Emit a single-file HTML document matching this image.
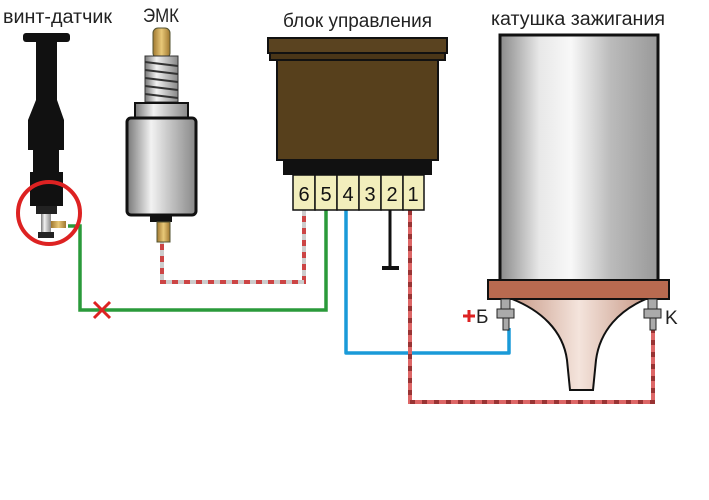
<!DOCTYPE html>
<html><head><meta charset="utf-8"><style>
body{margin:0;background:#fff;width:709px;height:500px;overflow:hidden}
svg{display:block}
text{font-family:"Liberation Sans","DejaVu Sans",sans-serif}
</style></head><body>
<svg width="709" height="500" viewBox="0 0 709 500">
<defs>
<linearGradient id="met" x1="0" x2="1"><stop offset="0" stop-color="#777"/><stop offset="0.35" stop-color="#f2f2f2"/><stop offset="0.6" stop-color="#c8c8c8"/><stop offset="1" stop-color="#888"/></linearGradient>
<linearGradient id="coil" x1="0" x2="1"><stop offset="0" stop-color="#8a8a8a"/><stop offset="0.25" stop-color="#e8e8e8"/><stop offset="0.45" stop-color="#f8f8f8"/><stop offset="0.7" stop-color="#bbb"/><stop offset="1" stop-color="#999"/></linearGradient>
<linearGradient id="fun" x1="0" x2="1"><stop offset="0" stop-color="#c89a88"/><stop offset="0.5" stop-color="#f4e4dc"/><stop offset="1" stop-color="#c89a88"/></linearGradient>
<linearGradient id="brass" x1="0" x2="1"><stop offset="0" stop-color="#a07830"/><stop offset="0.5" stop-color="#e8c878"/><stop offset="1" stop-color="#a07830"/></linearGradient>
</defs>
<g font-size="19" fill="#222">
<text x="3" y="23" textLength="109" lengthAdjust="spacingAndGlyphs">винт-датчик</text>
<text x="143" y="22" textLength="36" lengthAdjust="spacingAndGlyphs">ЭМК</text>
<text x="283" y="27" textLength="149" lengthAdjust="spacingAndGlyphs">блок управления</text>
<text x="491" y="25" textLength="174" lengthAdjust="spacingAndGlyphs">катушка зажигания</text>
</g>
<!-- wires -->
<polyline points="304,210 304,282 162,282 162,240" fill="none" stroke="#c44" stroke-width="4"/>
<polyline points="304,210 304,282 162,282 162,240" fill="none" stroke="#ccc" stroke-width="4" stroke-dasharray="6,6"/>
<polyline points="326,210 326,310 80,310 80,226 68,226" fill="none" stroke="#2a9a3a" stroke-width="3.5"/>
<polyline points="346,208 346,353 509,353 509,328" fill="none" stroke="#1a9ad8" stroke-width="3.5" stroke-linejoin="round"/>
<line x1="390" y1="210" x2="390" y2="268" stroke="#111" stroke-width="3"/>
<line x1="382" y1="268" x2="399" y2="268" stroke="#111" stroke-width="4"/>
<polyline points="410,210 410,402 653,402 653,328" fill="none" stroke="#d66" stroke-width="4"/>
<polyline points="410,210 410,402 653,402 653,328" fill="none" stroke="#933" stroke-width="4" stroke-dasharray="5,7"/>
<path d="M94,302 L110,318 M110,302 L94,318" stroke="#d22" stroke-width="3"/>
<!-- sensor -->
<rect x="23" y="33" width="47" height="9" rx="3" fill="#111"/>
<path d="M36,42 H57 V100 L64,120 V150 H28 V120 L36,100Z" fill="#111"/>
<rect x="33" y="150" width="26" height="22" fill="#111"/>
<rect x="30" y="172" width="33" height="34" fill="#111"/>
<rect x="36" y="206" width="21" height="8" fill="#222"/>
<rect x="41" y="214" width="10" height="18" fill="url(#met)"/>
<rect x="38" y="232" width="16" height="6" fill="#222"/>
<rect x="51" y="221" width="15" height="7" fill="url(#brass)"/>
<circle cx="49" cy="213" r="31" fill="none" stroke="#d22" stroke-width="4"/>
<!-- EMK -->
<rect x="153" y="28" width="17" height="30" rx="5" fill="url(#brass)" stroke="#553" stroke-width="1"/>
<rect x="145" y="56" width="33" height="46" fill="url(#met)" stroke="#333"/>
<path d="M145,62 L178,66 M145,70 L178,74 M145,78 L178,82 M145,86 L178,90 M145,94 L178,98" stroke="#333" stroke-width="2"/>
<rect x="135" y="103" width="53" height="15" fill="url(#met)" stroke="#111" stroke-width="2"/>
<rect x="127" y="118" width="69" height="97" rx="4" fill="url(#met)" stroke="#111" stroke-width="3"/>
<rect x="150" y="215" width="22" height="7" fill="#111"/>
<rect x="157" y="222" width="13" height="20" fill="url(#brass)" stroke="#553" stroke-width="1"/>
<!-- block -->
<rect x="268" y="38" width="179" height="15" fill="#5a4320" stroke="#111" stroke-width="2"/>
<rect x="270" y="53" width="175" height="7" fill="#4a3618" stroke="#111" stroke-width="2"/>
<rect x="277" y="60" width="161" height="100" fill="#57401c" stroke="#111" stroke-width="2"/>
<rect x="283" y="160" width="149" height="15" fill="#111"/>
<g fill="#f2eebc" stroke="#111" stroke-width="1.5">
<rect x="293" y="175" width="22" height="35"/><rect x="315" y="175" width="22" height="35"/><rect x="337" y="175" width="22" height="35"/><rect x="359" y="175" width="22" height="35"/><rect x="381" y="175" width="22" height="35"/><rect x="403" y="175" width="21" height="35"/>
</g>
<g font-size="20" fill="#111" text-anchor="middle">
<text x="304" y="201">6</text><text x="326" y="201">5</text><text x="348" y="201">4</text><text x="370" y="201">3</text><text x="392" y="201">2</text><text x="413" y="201">1</text>
</g>
<!-- coil -->
<rect x="500" y="35" width="158" height="246" fill="url(#coil)" stroke="#111" stroke-width="3"/>
<path d="M512,299 H646 C620,310 600,330 596,360 L593,390 H570 L567,360 C563,330 540,310 512,299Z" fill="url(#fun)" stroke="#111" stroke-width="2"/>
<rect x="488" y="280" width="181" height="19" fill="#b86a50" stroke="#111" stroke-width="2"/>
<g fill="#aaa" stroke="#222" stroke-width="1">
<rect x="501" y="299" width="9" height="10"/><rect x="497" y="309" width="17" height="9"/><rect x="503" y="318" width="6" height="12"/>
<rect x="648" y="299" width="9" height="10"/><rect x="644" y="309" width="17" height="9"/><rect x="650" y="318" width="6" height="12"/>
</g>
<path d="M463,316 H475 M469,310 V322" stroke="#d22" stroke-width="3"/>
<text x="476" y="323" font-size="19" fill="#222">Б</text>
<text x="665" y="324" font-size="19" fill="#222">K</text>
</svg>
</body></html>
